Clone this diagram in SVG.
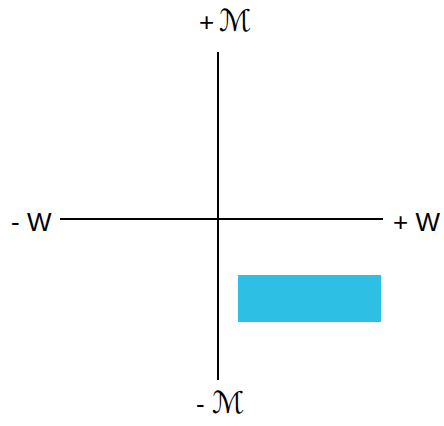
<svg xmlns="http://www.w3.org/2000/svg" width="444" height="426" viewBox="0 0 444 426">
<style>
.lbl{font-family:"Liberation Sans","Arial",sans-serif;font-size:26px;fill:#000}
.m{font-family:"DejaVu Sans","Noto Sans",serif;font-size:30px;fill:#000}
.ax{stroke:#000;stroke-width:2;fill:none}
</style>
<rect width="444" height="426" fill="#fff"/>
<g id="connectors">
<line class="ax" x1="218" y1="52" x2="218" y2="380"/>
<line class="ax" x1="60" y1="219" x2="383" y2="219"/>
</g>
<g id="rect-node"><rect x="238" y="275" width="143" height="47" fill="#2EBFE5"/></g>
<g id="top-label"><text class="lbl" x="199" y="31">+</text><text class="m" x="219" y="31">ℳ</text></g>
<g id="bottom-label"><text class="lbl" x="196" y="413">-</text><text class="m" x="212" y="413">ℳ</text></g>
<g id="left-label"><text class="lbl" x="11" y="231">- W</text></g>
<g id="right-label"><text class="lbl" x="393" y="231">+ W</text></g>
</svg>
